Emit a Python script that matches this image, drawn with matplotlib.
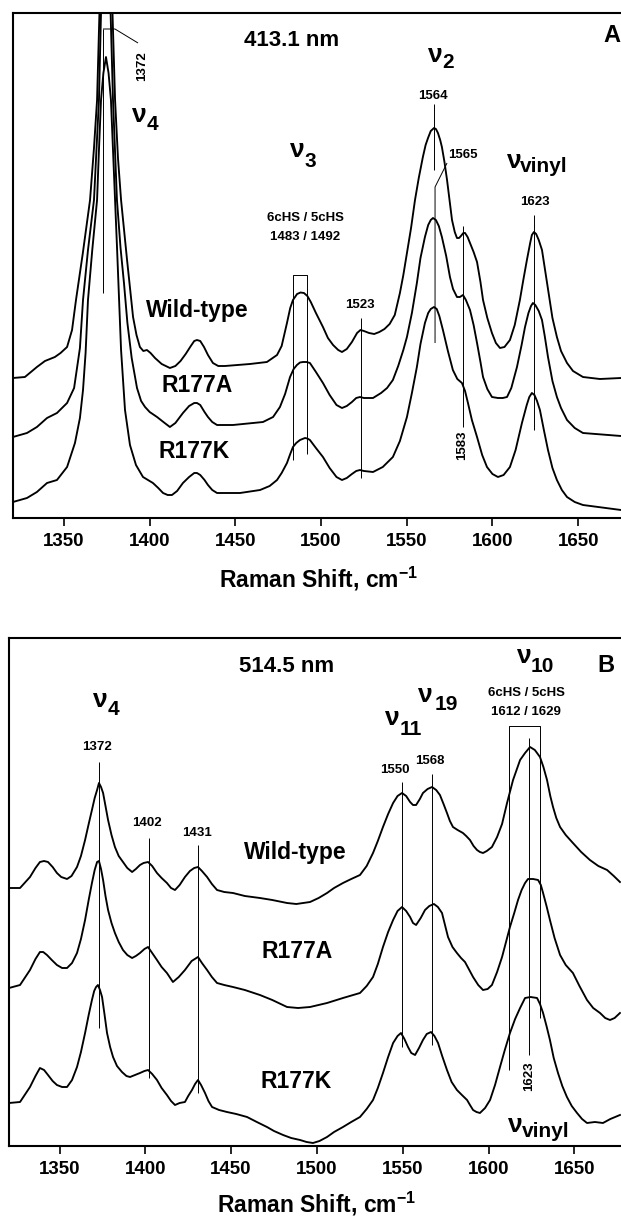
import matplotlib
matplotlib.use('Agg')
import matplotlib.pyplot as plt

plt.rcParams['font.family'] = ['Liberation Sans', 'DejaVu Sans']
plt.rcParams['font.weight'] = 'bold'
plt.rcParams['mathtext.fontset'] = 'custom'
plt.rcParams['mathtext.rm'] = 'Liberation Sans:bold'
plt.rcParams['mathtext.it'] = 'Liberation Sans:bold'
plt.rcParams['mathtext.bf'] = 'Liberation Sans:bold'
plt.rcParams['mathtext.default'] = 'rm'

# ---------------- data (Raman shift cm-1, relative intensity) ----------------
xticks = [1350, 1400, 1450, 1500, 1550, 1600, 1650]
xtick_labels = ['1350', '1400', '1450', '1500', '1550', '1600', '1650']
series_names = ['Wild-type', 'R177A', 'R177K']

# Panel A: 413.1 nm excitation
a_wt_cm = [1320.2, 1327.2, 1334.2, 1338.9, 1344.7, 1348.0, 1351.8, 1354.7, 1357.0, 1361.0,
           1365.2, 1367.5, 1369.3, 1370.7, 1372.0, 1373.3, 1374.5, 1375.8, 1377.2, 1378.3,
           1379.8, 1381.5, 1383.3, 1386.8, 1390.3, 1392.3, 1394.3, 1396.3, 1398.4, 1400.5,
           1403.1, 1407.0, 1411.8, 1415.0, 1418.0, 1421.0, 1424.0, 1426.0, 1427.6, 1429.5,
           1431.7, 1434.0, 1436.9, 1440.0, 1443.9, 1458.5, 1468.4, 1474.3, 1477.0, 1480.1,
           1482.0, 1483.6, 1486.0, 1488.0, 1490.0, 1492.0, 1494.0, 1497.0, 1501.1, 1504.0,
           1507.0, 1510.0, 1512.2, 1515.0, 1518.0, 1521.0, 1523.0, 1525.0, 1528.0, 1531.0,
           1534.0, 1537.0, 1540.0, 1543.0, 1546.0, 1548.0, 1550.1, 1552.5, 1554.8, 1557.0,
           1559.4, 1561.0, 1562.4, 1564.0, 1565.9, 1567.0, 1568.2, 1569.5, 1570.5, 1572.0,
           1573.5, 1575.0, 1576.4, 1578.0, 1579.3, 1580.5, 1581.6, 1583.0, 1584.0, 1585.5,
           1586.9, 1589.0, 1591.0, 1593.0, 1594.5, 1597.0, 1599.7, 1602.0, 1604.4, 1607.0,
           1610.2, 1613.0, 1616.0, 1618.0, 1620.1, 1622.0, 1623.0, 1624.2, 1625.5, 1627.0,
           1628.9, 1630.5, 1632.4, 1635.0, 1637.6, 1640.0, 1643.5, 1647.0, 1652.8, 1662.7,
           1675.0]
a_wt_int = [140, 141, 151, 157, 161, 165, 171, 188, 218, 265,
            318, 370, 418, 505, 590, 635, 645, 635, 580, 505,
            418, 360, 318, 258, 201, 183, 171, 167, 168, 165,
            160, 154, 150, 152, 157, 164, 172, 177, 178, 177,
            171, 163, 155, 152, 152, 154, 156, 163, 172, 195,
            210, 218, 224, 225.5, 225, 222, 216, 205, 191, 180,
            173, 168, 166, 169, 176, 185, 188, 187, 185, 184,
            186, 189, 194, 203, 225, 243, 265, 290, 318, 340,
            361, 373, 380, 387, 390, 389, 385, 378, 371, 356,
            338, 317, 298, 286, 280, 280, 282, 285, 285, 281,
            275, 266, 256, 236, 218, 200, 185, 175, 170, 171,
            178, 193, 218, 238, 258, 275, 283, 286, 284, 278,
            268, 250, 228, 200, 181, 167, 155, 147, 141, 139,
            140]

a_r177a_cm = [1320.2, 1328.4, 1334.2, 1340.1, 1345.9, 1351.8, 1355.9, 1359.3, 1361.1, 1364.0,
              1367.5, 1369.0, 1370.4, 1371.6, 1373.0, 1374.5, 1376.0, 1377.2, 1378.6, 1380.9,
              1383.0, 1385.0, 1387.0, 1389.5, 1392.6, 1395.0, 1397.3, 1400.0, 1404.3, 1408.0,
              1411.8, 1415.0, 1419.4, 1423.0, 1426.0, 1427.6, 1429.5, 1432.0, 1434.0, 1436.5,
              1439.3, 1448.6, 1466.1, 1472.0, 1476.0, 1479.0, 1481.9, 1484.0, 1485.9, 1487.7,
              1489.4, 1491.5, 1493.5, 1497.0, 1501.1, 1505.0, 1509.0, 1512.2, 1515.0, 1518.0,
              1520.5, 1522.7, 1525.0, 1530.3, 1535.0, 1538.5, 1541.9, 1545.0, 1548.0, 1550.1,
              1553.0, 1555.9, 1558.0, 1560.6, 1562.5, 1564.0, 1565.3, 1567.0, 1568.7, 1570.5,
              1573.0, 1575.2, 1577.0, 1579.3, 1581.0, 1582.8, 1584.5, 1586.9, 1589.0, 1591.0,
              1593.0, 1594.5, 1597.0, 1599.7, 1603.2, 1606.0, 1608.5, 1611.0, 1614.3, 1617.0,
              1619.0, 1621.0, 1622.5, 1623.6, 1625.0, 1627.0, 1628.9, 1630.5, 1632.4, 1635.0,
              1637.6, 1640.0, 1643.5, 1648.0, 1652.8, 1675.0]
a_r177a_int = [81, 85, 91, 100, 105, 115, 130, 170, 218, 268,
               318, 370, 418, 505, 545, 555, 545, 505, 418, 318,
               270, 235, 195, 160, 130, 117, 111, 106, 101, 96,
               91, 95, 105, 112, 115, 115, 113, 106, 101, 96,
               93, 93, 96, 101, 111, 124, 141, 149, 153, 155.5,
               156, 156, 155, 146, 135, 123, 113, 110, 112, 116,
               120, 121, 120, 120, 125, 130, 138, 152, 168, 181,
               205, 235, 260, 281, 293, 298, 300, 298, 292, 281,
               262, 241, 229, 221, 221, 223, 218, 208, 193, 175,
               156, 141, 129, 121, 120, 120, 121, 130, 151, 173,
               191, 205, 212, 215, 213, 207, 198, 182, 161, 137,
               121, 110, 98, 90, 85, 82]

a_r177k_cm = [1320.2, 1328.4, 1334.2, 1340.1, 1345.9, 1351.8, 1356.4, 1359.3, 1361.1, 1362.6,
              1364.0, 1366.5, 1369.3, 1370.4, 1371.6, 1373.0, 1374.5, 1376.0, 1377.4, 1378.6,
              1379.8, 1381.0, 1383.3, 1385.6, 1388.5, 1392.0, 1396.1, 1401.9, 1405.0, 1407.8,
              1410.5, 1413.0, 1416.0, 1419.4, 1423.0, 1426.0, 1427.6, 1429.5, 1432.0, 1434.0,
              1436.5, 1439.3, 1452.7, 1464.4, 1470.0, 1474.3, 1477.0, 1480.1, 1482.0, 1483.6,
              1485.5, 1487.7, 1490.6, 1492.0, 1493.5, 1497.0, 1501.1, 1505.0, 1509.0, 1512.2,
              1515.0, 1518.0, 1520.5, 1522.7, 1525.0, 1530.3, 1536.0, 1541.9, 1546.0, 1550.1,
              1553.0, 1555.9, 1558.0, 1560.6, 1562.5, 1564.0, 1565.9, 1567.5, 1569.0, 1571.1,
              1574.0, 1576.9, 1579.5, 1582.2, 1584.0, 1585.7, 1588.0, 1591.0, 1594.0, 1596.8,
              1600.0, 1603.2, 1606.5, 1610.2, 1613.5, 1617.2, 1620.0, 1621.5, 1623.0, 1624.5,
              1626.0, 1627.7, 1630.0, 1632.4, 1635.0, 1637.6, 1640.5, 1643.5, 1648.0, 1652.8,
              1675.0]
a_r177k_int = [16, 20, 26, 35, 38, 51, 75, 100, 128, 165,
               218, 268, 318, 368, 418, 445, 461, 445, 418, 368,
               318, 268, 168, 108, 73, 53, 41, 35, 30, 25,
               23, 23, 27, 35, 41, 45, 45, 43, 38, 33,
               28, 25, 25, 28, 32, 38, 45, 55, 64, 71,
               75, 78, 80, 79.5, 78, 70, 61, 50, 41, 38,
               40, 44, 47, 48, 47, 46, 51, 61, 77, 101,
               125, 151, 174, 195, 205, 209, 211, 209, 202, 188,
               167, 148, 139, 135, 127, 115, 98, 81, 63, 51,
               44, 41, 43, 51, 68, 95, 113, 121, 125, 123,
               117, 108, 88, 68, 50, 38, 28, 21, 16, 13,
               8]

# Panel B: 514.5 nm excitation
b_wt_cm = [1320.6, 1327.0, 1332.8, 1336.0, 1338.6, 1341.0, 1343.3, 1346.0, 1348.5, 1351.0,
           1354.4, 1357.0, 1360.2, 1362.5, 1364.9, 1367.0, 1368.9, 1370.5, 1371.9, 1373.0,
           1374.2, 1375.4, 1376.8, 1378.3, 1380.3, 1382.3, 1384.5, 1387.0, 1389.5, 1392.3,
           1394.5, 1396.9, 1399.0, 1401.6, 1404.0, 1406.8, 1409.5, 1412.6, 1415.0, 1417.3,
           1420.0, 1423.1, 1426.0, 1428.5, 1430.7, 1433.0, 1436.0, 1438.8, 1441.8, 1446.0,
           1451.1, 1458.0, 1466.8, 1474.0, 1482.6, 1488.0, 1496.0, 1501.0, 1505.9, 1510.0,
           1515.2, 1520.0, 1525.1, 1529.0, 1532.7, 1535.5, 1538.5, 1541.5, 1544.4, 1547.0,
           1549.6, 1552.0, 1554.3, 1556.0, 1557.8, 1560.0, 1561.8, 1564.5, 1567.1, 1569.5,
           1571.7, 1573.8, 1575.8, 1577.5, 1579.3, 1582.0, 1585.1, 1587.0, 1589.2, 1591.3,
           1593.3, 1595.0, 1596.8, 1599.0, 1602.0, 1605.0, 1607.9, 1610.8, 1614.3, 1618.4,
           1621.3, 1624.2, 1627.0, 1630.0, 1632.0, 1634.1, 1636.0, 1637.6, 1639.5, 1641.7,
           1645.0, 1649.2, 1654.0, 1659.1, 1664.0, 1669.1, 1673.0, 1676.6]
b_wt_int = [258, 258, 269, 278, 284, 285, 284, 279, 273, 269,
            267, 270, 279, 290, 306, 322, 336, 348, 356, 363,
            359, 353, 340, 326, 311, 299, 290, 284, 278, 274,
            277, 281, 283, 284, 280, 273, 268, 263, 258, 256,
            261, 269, 275, 278, 279, 275, 269, 262, 256, 254,
            253, 250, 248, 246, 243, 242, 244, 248, 253, 258,
            263, 267, 271, 280, 293, 305, 319, 332, 343, 350,
            353, 350, 344, 341, 341, 347, 353, 357, 359, 356,
            351, 342, 333, 325, 319, 316, 313, 310, 306, 300,
            296, 294, 293, 295, 299, 309, 322, 343, 366, 386,
            393, 399, 396, 389, 379, 366, 350, 339, 328, 319,
            311, 303, 294, 286, 280, 276, 270, 264]

b_r177a_cm = [1320.6, 1327.0, 1332.8, 1336.0, 1338.6, 1340.5, 1342.7, 1345.5, 1348.5, 1351.5,
              1354.4, 1357.3, 1360.2, 1362.5, 1364.9, 1367.0, 1368.9, 1370.5, 1371.9, 1373.0,
              1374.2, 1375.4, 1376.8, 1378.3, 1380.3, 1382.3, 1384.5, 1387.0, 1389.5, 1392.3,
              1394.5, 1396.9, 1399.5, 1401.6, 1404.0, 1406.8, 1409.5, 1412.6, 1416.1, 1419.5,
              1423.1, 1427.0, 1430.7, 1433.0, 1436.0, 1438.8, 1441.8, 1446.0, 1451.1, 1458.0,
              1466.8, 1474.0, 1482.6, 1489.0, 1496.0, 1505.9, 1515.2, 1525.1, 1529.0, 1532.7,
              1535.5, 1538.5, 1541.5, 1544.4, 1547.0, 1549.6, 1552.0, 1554.3, 1556.0, 1557.8,
              1560.5, 1563.0, 1565.5, 1568.2, 1570.5, 1572.9, 1574.5, 1576.4, 1579.0, 1581.6,
              1584.0, 1586.3, 1588.5, 1591.0, 1594.0, 1596.8, 1599.5, 1602.0, 1605.0, 1607.9,
              1610.2, 1612.5, 1615.0, 1617.2, 1619.3, 1621.3, 1623.0, 1626.0, 1628.9, 1630.5,
              1631.8, 1633.8, 1635.8, 1638.5, 1641.7, 1645.0, 1649.2, 1653.0, 1657.4, 1661.0,
              1665.0, 1668.0, 1670.8, 1673.5, 1676.6]
b_r177a_int = [158, 161, 176, 187, 194, 194, 191, 186, 181, 178,
               178, 183, 193, 207, 226, 246, 263, 276, 284, 285,
               277, 266, 250, 236, 223, 213, 204, 196, 191, 188,
               190, 193, 197, 199, 193, 186, 179, 173, 164, 169,
               176, 185, 189, 183, 176, 169, 163, 161, 159, 156,
               151, 146, 139, 138, 139, 143, 148, 153, 160, 169,
               182, 199, 214, 226, 235, 239, 235, 229, 223, 221,
               228, 236, 240, 242, 239, 233, 222, 209, 199, 193,
               188, 184, 177, 169, 161, 156, 157, 161, 174, 189,
               204, 219, 233, 246, 256, 263, 267, 267, 266, 261,
               253, 240, 226, 208, 191, 181, 173, 160, 146, 138,
               133, 128, 126, 128, 133]

b_r177k_cm = [1320.6, 1327.0, 1332.8, 1336.0, 1338.6, 1341.0, 1343.3, 1346.0, 1348.5, 1351.5,
              1354.4, 1357.3, 1360.2, 1362.5, 1364.9, 1367.0, 1368.9, 1370.2, 1371.3, 1372.4,
              1373.6, 1374.8, 1376.2, 1377.7, 1379.5, 1381.2, 1383.5, 1386.4, 1389.0, 1391.1,
              1394.0, 1396.9, 1399.5, 1401.6, 1404.0, 1406.8, 1409.5, 1412.6, 1415.0, 1417.3,
              1420.0, 1423.1, 1425.0, 1427.2, 1429.0, 1430.7, 1432.5, 1434.8, 1436.8, 1438.9,
              1443.0, 1447.6, 1453.0, 1459.3, 1465.0, 1470.9, 1475.0, 1480.3, 1485.0, 1490.2,
              1494.0, 1497.7, 1501.5, 1505.9, 1510.0, 1515.2, 1520.0, 1525.1, 1529.0, 1532.7,
              1535.5, 1538.5, 1541.5, 1544.4, 1547.0, 1549.0, 1551.0, 1553.1, 1555.0, 1557.2,
              1559.5, 1561.8, 1564.0, 1566.5, 1568.5, 1570.6, 1573.0, 1575.8, 1578.5, 1581.6,
              1584.5, 1587.5, 1589.2, 1591.0, 1593.0, 1595.0, 1598.0, 1600.9, 1603.8, 1606.7,
              1609.5, 1612.5, 1615.5, 1618.4, 1621.3, 1624.5, 1628.3, 1630.0, 1631.8, 1633.8,
              1635.8, 1638.0, 1640.5, 1643.0, 1645.7, 1648.5, 1651.6, 1654.5, 1657.4, 1662.0,
              1666.7, 1671.0, 1676.6]
b_r177k_int = [43, 44, 59, 70, 78, 76, 71, 65, 61, 59,
               59, 66, 79, 94, 113, 131, 146, 155, 159, 161,
               156, 149, 132, 113, 99, 89, 80, 74, 70, 69,
               71, 73, 75, 76, 72, 66, 58, 51, 45, 41,
               43, 44, 50, 56, 62, 66, 61, 53, 45, 39,
               36, 34, 32, 29, 24, 19, 15, 11, 8, 6,
               4, 3, 5, 9, 14, 19, 24, 29, 37, 46,
               58, 73, 89, 103, 110, 113, 107, 99, 93, 91,
               98, 106, 112, 114, 110, 103, 90, 76, 64, 56,
               51, 46, 41, 36, 34, 33, 38, 46, 61, 79,
               96, 113, 127, 138, 148, 149, 148, 142, 133, 120,
               106, 88, 73, 60, 49, 40, 33, 27, 23, 24,
               23, 27, 31]

# ---------------- figure ----------------
W, H = 621, 1218
fig = plt.figure(figsize=(W / 100, H / 100), dpi=100)
axA = fig.add_axes([13 / W, 1 - 518 / H, 608 / W, 505 / H])
axB = fig.add_axes([9 / W, 1 - 1146 / H, 612 / W, 508 / H])

LW = 1.35
TXT = 9.5   # small peak labels
LBL = 16.5  # series labels


def style_axes(ax, xlim, ylim, label_y):
    ax.set_xlim(*xlim)
    ax.set_ylim(*ylim)
    ax.set_yticks([])
    ax.set_xticks(xticks)
    ax.set_xticklabels(xtick_labels, fontsize=13.5, fontweight='bold')
    ax.tick_params(axis='x', direction='out', length=5.5, width=1.2, pad=5)
    for s in ('left', 'top', 'bottom'):
        ax.spines[s].set_linewidth(1.5)
    ax.spines['right'].set_visible(False)
    ax.set_xlabel('Raman Shift, cm$^{-1}$', fontsize=16.5, fontweight='bold')
    ax.xaxis.label.set_va('baseline')
    ax.xaxis.set_label_coords(0.503, label_y)


def seg(ax, xs, ys, lw=0.7):
    ax.plot(xs, ys, color='black', lw=lw, solid_capstyle='butt')


def nu(ax, x, y, sub, xs, ys, size=19, subsize=15):
    ax.text(x, y, 'ν', fontsize=size, fontweight='bold', ha='left', va='baseline')
    ax.text(xs, ys, sub, fontsize=subsize, fontweight='bold', ha='left', va='baseline')


# ---------------- Panel A ----------------
for cm, inten in [(a_wt_cm, a_wt_int), (a_r177a_cm, a_r177a_int), (a_r177k_cm, a_r177k_int)]:
    axA.plot(cm, inten, color='black', lw=LW, solid_joinstyle='round')
style_axes(axA, (1320.25, 1675.0), (0, 505), -0.1366)

axA.text(1483, 478, '413.1 nm', fontsize=16, fontweight='bold', ha='center', va='center')
axA.text(1669.5, 482, 'A', fontsize=17, fontweight='bold', ha='center', va='center')

for name, (x, y) in zip(series_names, [(1427.6, 207), (1427.6, 132), (1425.8, 66)]):
    axA.text(x, y, name, fontsize=LBL, fontweight='bold', ha='center', va='center')

# nu4 @ 1372
seg(axA, [1372.75, 1372.75], [225, 489])
seg(axA, [1372.75, 1379.75, 1393.2], [489, 489, 475])
axA.text(1395.5, 452, '1372', fontsize=TXT, fontweight='bold', rotation=90, ha='center', va='center')
nu(axA, 1389.7, 396, '4', 1398.4, 388)

# nu3 box 1483 / 1492
seg(axA, [1483.6, 1483.6, 1491.8, 1491.8], [58, 243, 243, 64])
axA.text(1490.6, 300, '6cHS / 5cHS', fontsize=TXT, fontweight='bold', ha='center', va='center')
axA.text(1490.6, 281, '1483 / 1492', fontsize=TXT, fontweight='bold', ha='center', va='center')
nu(axA, 1481.9, 361, '3', 1490.6, 351)

# 1523
seg(axA, [1523.3, 1523.3], [40, 200])
axA.text(1522.7, 213, '1523', fontsize=TXT, fontweight='bold', ha='center', va='center')

# nu2 1564 / 1565
seg(axA, [1565.9, 1565.9], [348, 414])
axA.text(1565.3, 422, '1564', fontsize=TXT, fontweight='bold', ha='center', va='center')
seg(axA, [1573.5, 1566.5, 1566.5], [355, 331, 175])
axA.text(1582.8, 363, '1565', fontsize=TXT, fontweight='bold', ha='center', va='center')
nu(axA, 1562.4, 456, '2', 1570.5, 450)

# 1583
seg(axA, [1582.8, 1582.8], [91, 292])
axA.text(1582.2, 73, '1583', fontsize=TXT, fontweight='bold', rotation=90, ha='center', va='center')

# vinyl 1623
seg(axA, [1624.2, 1624.2], [88, 303])
axA.text(1624.8, 316, '1623', fontsize=TXT, fontweight='bold', ha='center', va='center')
nu(axA, 1608.5, 350, 'vinyl', 1615.8, 346)

# ---------------- Panel B ----------------
for cm, inten in [(b_wt_cm, b_wt_int), (b_r177a_cm, b_r177a_int), (b_r177k_cm, b_r177k_int)]:
    axB.plot(cm, inten, color='black', lw=LW, solid_joinstyle='round')
style_axes(axB, (1320.57, 1677.21), (0, 508), -0.13)

axB.text(1482.6, 479, '514.5 nm', fontsize=16, fontweight='bold', ha='center', va='center')
axB.text(1668.5, 481, 'B', fontsize=17, fontweight='bold', ha='center', va='center')

for name, (x, y) in zip(series_names, [(1487.2, 294), (1488.4, 194), (1487.8, 64)]):
    axB.text(x, y, name, fontsize=LBL, fontweight='bold', ha='center', va='center')

nu(axB, 1369.5, 439, '4', 1378.3, 431)
seg(axB, [1373.0, 1373.0], [118, 384])
axB.text(1371.9, 399, '1372', fontsize=TXT, fontweight='bold', ha='center', va='center')
seg(axB, [1402.2, 1402.2], [68, 308])
axB.text(1401.0, 323, '1402', fontsize=TXT, fontweight='bold', ha='center', va='center')
seg(axB, [1430.7, 1430.7], [53, 301])
axB.text(1430.1, 313, '1431', fontsize=TXT, fontweight='bold', ha='center', va='center')

nu(axB, 1539.7, 421, '11', 1548.4, 411)
nu(axB, 1558.9, 444, '19', 1568.8, 436)
seg(axB, [1549.6, 1549.6], [99, 364])
axB.text(1545.5, 376, '1550', fontsize=TXT, fontweight='bold', ha='center', va='center')
seg(axB, [1567.3, 1567.3], [101, 372])
axB.text(1565.9, 385, '1568', fontsize=TXT, fontweight='bold', ha='center', va='center')

nu(axB, 1616.6, 483, '10', 1624.7, 474)
axB.text(1621.9, 453, '6cHS / 5cHS', fontsize=TXT, fontweight='bold', ha='center', va='center')
axB.text(1621.9, 434, '1612 / 1629', fontsize=TXT, fontweight='bold', ha='center', va='center')
seg(axB, [1612.0, 1612.0, 1630.1, 1630.1], [76, 420, 420, 128])
seg(axB, [1623.4, 1623.4], [91, 408])
axB.text(1623.4, 70, '1623', fontsize=TXT, fontweight='bold', rotation=90, ha='center', va='center')
nu(axB, 1611.3, 14, 'vinyl', 1619.6, 9)

fig.savefig('out.png', dpi=100)
